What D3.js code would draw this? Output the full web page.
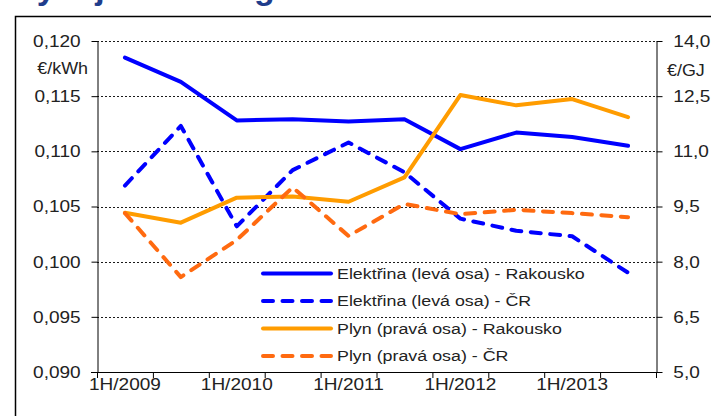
<!DOCTYPE html>
<html>
<head>
<meta charset="utf-8">
<script src="https://cdn.jsdelivr.net/npm/d3@7"></script>
<style>
  body { margin: 0; background: #fff; }
  svg { display: block; }
  text { font-family: "Liberation Sans", Arial, sans-serif; }
</style>
</head>
<body>
<div id="chart"></div>
<script>
var w = 711, h = 416;

// half-year periods
var periods = ["1H/2009", "2H/2009", "1H/2010", "2H/2010", "1H/2011",
               "2H/2011", "1H/2012", "2H/2012", "1H/2013", "2H/2013"];

// €/kWh (left axis)
var elRakousko = [0.1185, 0.1163, 0.1128, 0.1129, 0.1127, 0.1129, 0.1102, 0.1117, 0.1113, 0.1105];
var elCR       = [0.1069, 0.1123, 0.1032, 0.1083, 0.1108, 0.1081, 0.1039, 0.1028, 0.1023, 0.0990];

// €/GJ (right axis)
var plynRakousko = [9.33, 9.06, 9.74, 9.77, 9.63, 10.29, 12.53, 12.25, 12.42, 11.93];
var plynCR       = [9.32, 7.58, 8.59, 10.02, 8.70, 9.57, 9.29, 9.41, 9.32, 9.21];

var leftTicks  = [0.090, 0.095, 0.100, 0.105, 0.110, 0.115, 0.120];
var rightTicks = [5.0, 6.5, 8.0, 9.5, 11.0, 12.5, 14.0];

var legendLabels = ["Elektřina (levá osa) - Rakousko", "Elektřina (levá osa) - ČR",
                    "Plyn (pravá osa) - Rakousko", "Plyn (pravá osa) - ČR"];

var blue = "#0000ff", orange = "#ff9c00", orangeRed = "#ff6a10";
var stretch = 1.12;

var svg = d3.select("#chart").append("svg")
  .attr("width", w)
  .attr("height", h);

// cut-off heading above the frame
svg.append("text")
  .attr("x", 14)
  .attr("y", -1)
  .attr("font-family", "Open Sans, sans-serif")
  .attr("font-weight", "bold")
  .attr("font-size", "34px")
  .attr("fill", "#1f3d8c")
  .text("Vývoj cen energií");

// frame
svg.append("rect")
  .attr("x", 15.5).attr("y", 16.5)
  .attr("width", 720).attr("height", 420)
  .attr("fill", "none")
  .attr("stroke", "#000")
  .attr("stroke-width", 1.5);

var plotLeft = 97, plotRight = 656, plotTop = 41, plotBottom = 372;

var x = d3.scaleBand().domain(periods).range([plotLeft, plotRight]);
var yL = d3.scaleLinear().domain([0.090, 0.120]).range([plotBottom, plotTop]);
var yR = d3.scaleLinear().domain([5.0, 14.0]).range([plotBottom, plotTop]);
var fmt = function(digits) {
  return function(d) { return d3.format("." + digits + "f")(d).replace(".", ","); };
};

// grid
svg.append("g").selectAll("line")
  .data(leftTicks.slice(1))
  .enter().append("line")
  .attr("x1", plotLeft).attr("x2", plotRight)
  .attr("y1", function(d) { return Math.round(yL(d)) + 0.5; })
  .attr("y2", function(d) { return Math.round(yL(d)) + 0.5; })
  .attr("stroke", "#000")
  .attr("stroke-width", 0.9)
  .attr("stroke-dasharray", "2,2");

// left axis
var gL = svg.append("g")
  .attr("transform", "translate(" + (plotLeft + 0.5) + ",0)")
  .call(d3.axisLeft(yL).tickValues(leftTicks).tickFormat(fmt(3))
    .tickSize(6).tickSizeOuter(0).tickPadding(9));

// right axis
var gR = svg.append("g")
  .attr("transform", "translate(" + (plotRight + 0.5) + ",0)")
  .call(d3.axisRight(yR).tickValues(rightTicks).tickFormat(fmt(1))
    .tickSize(6).tickSizeOuter(0).tickPadding(9));

[gL, gR].forEach(function(g) {
  g.selectAll("text")
    .attr("font-family", "Liberation Sans, Arial, sans-serif")
    .attr("font-size", "17px")
    .attr("fill", "#222")
    .attr("transform", "scale(" + stretch + ",1)");
  g.selectAll("line, path").attr("stroke", "#000");
});

// bottom axis line + boundary ticks
svg.append("line")
  .attr("x1", plotLeft - 6).attr("x2", plotRight + 6)
  .attr("y1", plotBottom + 0.5).attr("y2", plotBottom + 0.5)
  .attr("stroke", "#000");

svg.append("g").selectAll("line")
  .data(periods.concat(["end"]))
  .enter().append("line")
  .attr("x1", function(d) { return (d === "end" ? plotRight : x(d)) + 0.5; })
  .attr("x2", function(d) { return (d === "end" ? plotRight : x(d)) + 0.5; })
  .attr("y1", plotBottom).attr("y2", plotBottom + 6)
  .attr("stroke", "#000");

svg.append("g").selectAll("text")
  .data(periods.filter(function(d) { return d.indexOf("1H") === 0; }))
  .enter().append("text")
  .attr("transform", function(d) {
    return "translate(" + (x(d) + x.bandwidth() / 2) + "," + (plotBottom + 18) + ") scale(" + stretch + ",1)";
  })
  .attr("text-anchor", "middle")
  .attr("font-size", "17px")
  .attr("fill", "#222")
  .text(function(d) { return d; });

// units
svg.append("text")
  .attr("transform", "translate(88,74) scale(" + stretch + ",1)")
  .attr("text-anchor", "end")
  .attr("font-size", "16px")
  .attr("fill", "#222")
  .text("€/kWh");

svg.append("text")
  .attr("transform", "translate(667,76) scale(" + stretch + ",1)")
  .attr("font-size", "16px")
  .attr("fill", "#222")
  .text("€/GJ");

// series
var series = [
  { values: elRakousko,   scale: yL, color: blue,      dash: null },
  { values: elCR,         scale: yL, color: blue,      dash: "10,9.5" },
  { values: plynRakousko, scale: yR, color: orange,    dash: null },
  { values: plynCR,       scale: yR, color: orangeRed, dash: "10,9.5" }
];

series.forEach(function(s) {
  var line = d3.line()
    .x(function(d, i) { return x(periods[i]) + x.bandwidth() / 2; })
    .y(function(d) { return s.scale(d); });
  svg.append("path")
    .datum(s.values)
    .attr("d", line)
    .attr("fill", "none")
    .attr("stroke", s.color)
    .attr("stroke-width", 4)
    .attr("stroke-linejoin", "round")
    .attr("stroke-linecap", "round")
    .attr("stroke-dasharray", s.dash);
});

// legend
var legend = svg.append("g").selectAll("g")
  .data(series)
  .enter().append("g")
  .attr("transform", function(d, i) { return "translate(263," + (273.5 + i * 27.5) + ")"; });

legend.append("line")
  .attr("x1", 0).attr("x2", 68)
  .attr("stroke", function(d) { return d.color; })
  .attr("stroke-width", 4)
  .attr("stroke-linecap", "round")
  .attr("stroke-dasharray", function(d) { return d.dash; });

legend.append("text")
  .attr("transform", "translate(74,5) scale(1.19,1)")
  .attr("font-size", "15px")
  .attr("fill", "#222")
  .text(function(d, i) { return legendLabels[i]; });
</script>
</body>
</html>
